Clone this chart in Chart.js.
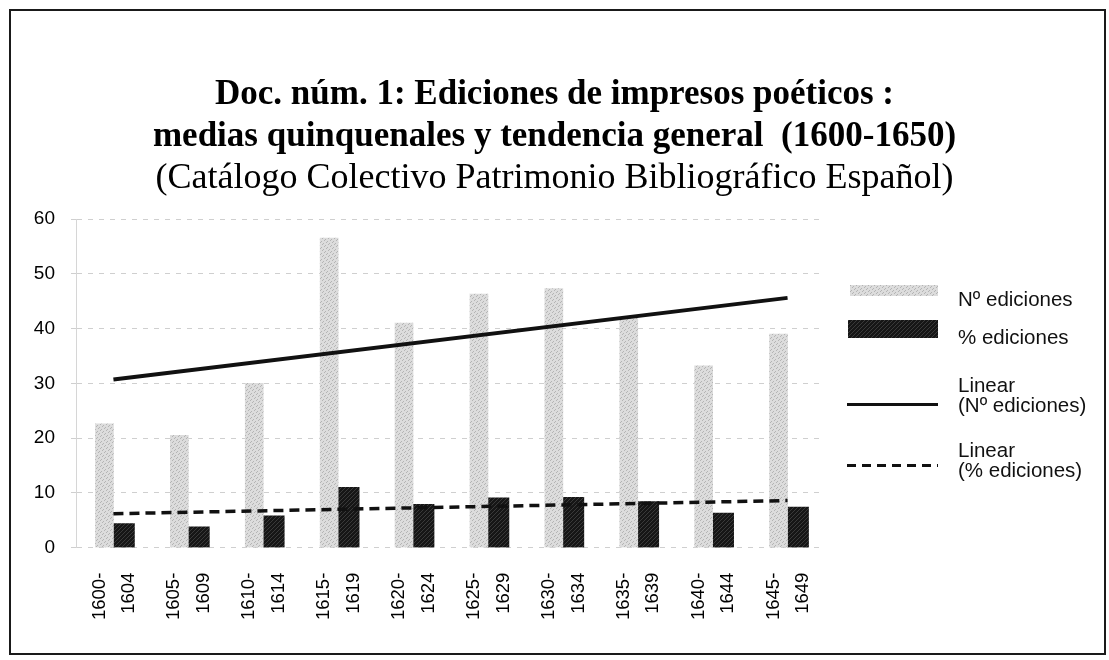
<!DOCTYPE html>
<html>
<head>
<meta charset="utf-8">
<script src="https://cdn.jsdelivr.net/npm/chart.js@4.4.0/dist/chart.umd.min.js"></script>
<style>
  body { margin: 0; background: #fff; }
  #wrap { position: relative; width: 1109px; height: 660px; }
  #frame { position: absolute; left: 9px; top: 9px; width: 1093px; height: 642px; border: 2px solid #1a1a1a; pointer-events: none; }
  #legend { position: absolute; left: 0; top: 0; font-family: "Liberation Sans", Arial, sans-serif; font-size: 20.5px; color: #111; }
  .swatch { position: absolute; }
  .ltext { position: absolute; line-height: 20px; white-space: nowrap; }
</style>
</head>
<body>
<div id="wrap">
  <canvas id="chart" width="1109" height="660"></canvas>
  <div id="frame"></div>
  <div id="legend"></div>
</div>
<script>
// periods (tick labels, two lines each)
const periods = [
    ['1600-', '1604'], ['1605-', '1609'], ['1610-', '1614'], ['1615-', '1619'], ['1620-', '1624'],
    ['1625-', '1629'], ['1630-', '1634'], ['1635-', '1639'], ['1640-', '1644'], ['1645-', '1649']
];

// values
const numEdiciones = [22.6, 20.5, 30, 56.5, 41, 46.3, 47.3, 42, 33.2, 39];
const pctEdiciones = [4.4, 3.8, 5.8, 11, 7.9, 9.1, 9.2, 8.4, 6.3, 7.4];

// trend lines: only the two end points
const trendNum = [30.7, null, null, null, null, null, null, null, null, 45.6];
const trendPct = [6.2, null, null, null, null, null, null, null, null, 8.6];

const seriesLabels = ['Nº ediciones', '% ediciones', 'Linear\n(Nº ediciones)', 'Linear\n(% ediciones)'];

// little textures to imitate the scanned fills
function makePattern(base, speck, size) {
    const p = document.createElement('canvas');
    p.width = size; p.height = size;
    const g = p.getContext('2d');
    g.fillStyle = base;
    g.fillRect(0, 0, size, size);
    g.fillStyle = speck;
    for (let i = 0; i < size; i += 2) {
        g.fillRect(i, i, 1, 1);
        g.fillRect((i + 3) % size, i + 1, 1, 1);
    }
    return p;
}
const lightCanvas = makePattern('#dcdcdc', '#b4b4b4', 6);
const darkCanvas = makePattern('#161616', '#3a3a3a', 4);
const ctx = document.getElementById('chart').getContext('2d');
const lightFill = ctx.createPattern(lightCanvas, 'repeat');
const darkFill = ctx.createPattern(darkCanvas, 'repeat');

const chart = new Chart(ctx, {
    type: 'bar',
    data: {
        labels: periods,
        datasets: [
            {
                label: seriesLabels[0],
                data: numEdiciones,
                backgroundColor: lightFill,
                barThickness: 18,
                order: 2
            },
            {
                label: seriesLabels[1],
                data: pctEdiciones,
                backgroundColor: darkFill,
                barThickness: 21,
                order: 2
            },
            {
                type: 'line',
                label: seriesLabels[2],
                data: trendNum,
                borderColor: '#111',
                borderWidth: 4,
                pointRadius: 0,
                spanGaps: true,
                order: 0
            },
            {
                type: 'line',
                label: seriesLabels[3],
                data: trendPct,
                borderColor: '#111',
                borderWidth: 3.5,
                borderDash: [10, 6],
                pointRadius: 0,
                spanGaps: true,
                order: 0
            }
        ]
    },
    options: {
        responsive: false,
        animation: false,
        layout: {
            padding: { left: 0, right: 0, top: 0, bottom: 23 }
        },
        plugins: {
            legend: { display: false },
            tooltip: { enabled: false },
            title: {
                display: true,
                text: ['Doc. núm. 1: Ediciones de impresos poéticos :', 'medias quinquenales y tendencia general  (1600-1650)'],
                color: '#000',
                font: { family: 'Liberation Serif', size: 35, weight: 'bold', lineHeight: 1.2 },
                padding: { top: 74, bottom: 0 }
            },
            subtitle: {
                display: true,
                text: '(Catálogo Colectivo Patrimonio Bibliográfico Español)',
                color: '#000',
                font: { family: 'Liberation Serif', size: 36, weight: 'normal', lineHeight: 1.0 },
                padding: { top: 3, bottom: 22 }
            }
        },
        scales: {
            x: {
                grid: { display: false },
                border: { display: false },
                ticks: {
                    color: '#000',
                    font: { family: 'Liberation Sans', size: 18.5, lineHeight: 1.6 },
                    minRotation: 90,
                    maxRotation: 90,
                    autoSkip: false,
                    padding: 17,
                    labelOffset: -14
                }
            },
            y: {
                min: 0,
                max: 60,
                afterFit: function(scale) { scale.width = 76; },
                ticks: {
                    stepSize: 10,
                    color: '#000',
                    padding: 16,
                    font: { family: 'Liberation Sans', size: 19 }
                },
                grid: { color: '#cfcfcf', lineWidth: 1, tickLength: 5 },
                border: { display: true, color: '#d6d6d6', dash: [5, 6] }
            },
            // empty axis on the right that keeps room for the legend
            yRoom: {
                position: 'right',
                display: true,
                grid: { display: false },
                border: { display: false },
                ticks: { display: false },
                afterFit: function(scale) { scale.width = 284; }
            }
        }
    }
});

// legend built from the datasets
const legendBoxes = [
    { swatch: { left: 850, top: 285, width: 88, height: 11, fill: lightCanvas }, textTop: 289 },
    { swatch: { left: 848, top: 320, width: 90, height: 18, fill: darkCanvas }, textTop: 327 },
    { line: { left: 847, top: 403, width: 91, style: 'solid' }, textTop: 375 },
    { line: { left: 847, top: 464, width: 91, style: 'dashed' }, textTop: 440 }
];
const legendEl = document.getElementById('legend');
chart.data.datasets.forEach((ds, i) => {
    const b = legendBoxes[i];
    const sw = document.createElement('div');
    sw.className = 'swatch';
    if (b.swatch) {
        sw.style.left = b.swatch.left + 'px';
        sw.style.top = b.swatch.top + 'px';
        sw.style.width = b.swatch.width + 'px';
        sw.style.height = b.swatch.height + 'px';
        sw.style.backgroundImage = 'url(' + b.swatch.fill.toDataURL() + ')';
    } else {
        sw.style.left = b.line.left + 'px';
        sw.style.top = b.line.top + 'px';
        sw.style.width = b.line.width + 'px';
        sw.style.height = '0px';
        if (b.line.style === 'solid') {
            sw.style.borderTop = '3px solid #111';
        } else {
            sw.style.height = '3px';
            sw.style.background = 'repeating-linear-gradient(90deg, #111 0 9px, transparent 9px 15px)';
        }
    }
    legendEl.appendChild(sw);

    const t = document.createElement('div');
    t.className = 'ltext';
    t.style.left = '958px';
    t.style.top = b.textTop + 'px';
    t.innerHTML = ds.label.split('\n').join('<br>');
    legendEl.appendChild(t);
});
</script>
</body>
</html>
